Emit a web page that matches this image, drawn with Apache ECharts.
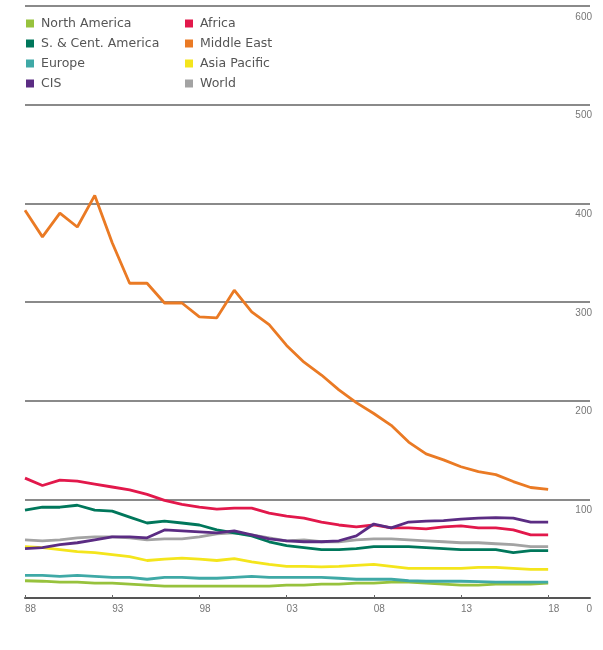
<!DOCTYPE html>
<html>
<head>
<meta charset="utf-8">
<script src="https://cdn.jsdelivr.net/npm/echarts@6/dist/echarts.min.js"></script>
<style>
  html, body { margin: 0; padding: 0; background: #ffffff; }
  #chart { width: 603px; height: 650px; }
</style>
</head>
<body>
<div id="chart"></div>
<script>
// Gas reserves-to-production ratios by region, 1988-2018 (years)
const years = [1988, 1989, 1990, 1991, 1992, 1993, 1994, 1995, 1996, 1997, 1998, 1999, 2000, 2001, 2002,
  2003, 2004, 2005, 2006, 2007, 2008, 2009, 2010, 2011, 2012, 2013, 2014, 2015, 2016, 2017, 2018];
const xTickLabels = ['88', '93', '98', '03', '08', '13', '18'];

const northAmerica = [17.5, 17, 16, 16, 15, 15, 14, 13, 12, 12, 12, 12, 12, 12, 12,
  13, 13, 14, 14, 15, 15, 16, 16, 15, 14, 13, 13, 14, 14, 14, 15];
const southCentAmerica = [89, 92, 92, 94, 89, 88, 82, 76, 78, 76, 74, 69, 66, 63, 57,
  53, 51, 49, 49, 50, 52, 52, 52, 51, 50, 49, 49, 49, 46, 48, 48];
const europe = [23, 23, 22, 23, 22, 21, 21, 19, 21, 21, 20, 20, 21, 22, 21,
  21, 21, 21, 20, 19, 19, 19, 17.5, 17, 17, 17, 16.5, 16, 16, 16, 16];
const cis = [50, 51, 54, 56, 59, 62, 62, 61, 69, 68, 67, 66, 68, 64, 60,
  58, 57, 57, 58, 63, 75, 71, 77, 78, 78.5, 80, 81, 81.5, 81, 77, 77];
const africa = [121.5, 114, 119.5, 118.5, 115.5, 112.5, 109.5, 105, 99, 95, 92, 90, 91, 91, 86,
  83, 81, 77, 74, 72, 74, 71, 71, 70, 72, 73, 71, 71, 69, 64, 64];
const middleEast = [393, 366, 390, 376, 408, 360, 319, 319, 299, 299, 285, 284, 312, 290, 277,
  256, 239, 226, 211, 198, 187, 175, 158, 146, 140, 133, 128, 125, 118, 112, 110];
const asiaPacific = [52, 51, 49, 47, 46, 44, 42, 38, 39.5, 40.5, 39.5, 38, 40, 36.5, 34,
  32, 32, 31.5, 32, 33, 34, 32, 30, 30, 30, 30, 31, 31, 30, 29, 29];
const world = [59, 58, 59, 61, 62, 62, 61, 59, 60, 60, 62, 65, 66, 64, 61,
  58, 59, 57, 57, 59, 60, 60, 59, 58, 57, 56, 56, 55, 54, 52, 52];

const regions = [
  { name: 'North America', color: '#97c23d', values: northAmerica },
  { name: 'S. & Cent. America', color: '#00775b', values: southCentAmerica },
  { name: 'Europe', color: '#3fa9a6', values: europe },
  { name: 'CIS', color: '#5b2c83', values: cis },
  { name: 'Africa', color: '#e2184b', values: africa },
  { name: 'Middle East', color: '#ea7a24', values: middleEast },
  { name: 'Asia Pacific', color: '#f4e51c', values: asiaPacific },
  { name: 'World', color: '#a3a3a3', values: world }
];

// draw order: lower lines first, so the crossing lines sit on top
const drawOrder = ['North America', 'Europe', 'Asia Pacific', 'World', 'S. & Cent. America', 'Africa', 'CIS', 'Middle East'];

const firstYear = years[0];
const series = drawOrder.map(n => {
  const r = regions.find(d => d.name === n);
  return {
    name: r.name,
    type: 'line',
    symbol: 'none',
    smooth: false,
    lineStyle: { color: r.color, width: 2.8 },
    itemStyle: { color: r.color },
    data: years.map((y, i) => [y - firstYear, r.values[i]])
  };
});

const legendCommon = {
  orient: 'vertical',
  icon: 'rect',
  padding: 0,
  itemWidth: 8,
  itemHeight: 8,
  itemGap: 7,
  textStyle: {
    fontSize: 12.5,
    lineHeight: 12,
    color: '#555',
    fontFamily: 'DejaVu Sans, sans-serif',
    padding: [0, 0, 0, 2]
  }
};

const chart = echarts.init(document.getElementById('chart'), null, { renderer: 'canvas' });
chart.setOption({
  animation: false,
  backgroundColor: '#ffffff',
  grid: { left: 25, right: 13, top: 6, bottom: 52 },
  legend: [
    Object.assign({ left: 26, top: 17, data: regions.slice(0, 4).map(r => r.name) }, legendCommon),
    Object.assign({ left: 185, top: 17, data: regions.slice(4).map(r => r.name) }, legendCommon)
  ],
  xAxis: {
    type: 'value',
    min: 0,
    max: 32.4,
    interval: 5,
    splitLine: { show: false },
    axisLine: { show: true, lineStyle: { color: '#555', width: 2 } },
    axisTick: { show: true, inside: true, length: 3, lineStyle: { color: '#666' } },
    axisLabel: {
      show: true,
      align: 'left',
      margin: 6,
      fontSize: 10,
      color: '#777',
      fontFamily: 'Liberation Sans, Arial, sans-serif',
      showMaxLabel: false,
      formatter: v => {
        const idx = Math.round(v / 5);
        return (v % 5 === 0 && idx < xTickLabels.length) ? xTickLabels[idx] : '';
      }
    }
  },
  yAxis: {
    type: 'value',
    position: 'right',
    min: 0,
    max: 600,
    interval: 100,
    axisLine: { show: false },
    axisTick: { show: false },
    splitLine: { show: true, lineStyle: { color: '#8a8a8a', width: 2 } },
    axisLabel: {
      inside: true,
      align: 'right',
      verticalAlign: 'top',
      padding: [6, 0, 0, 0],
      margin: -2,
      fontSize: 10,
      color: '#777',
      fontFamily: 'Liberation Sans, Arial, sans-serif'
    }
  },
  series: series
});
</script>
</body>
</html>
